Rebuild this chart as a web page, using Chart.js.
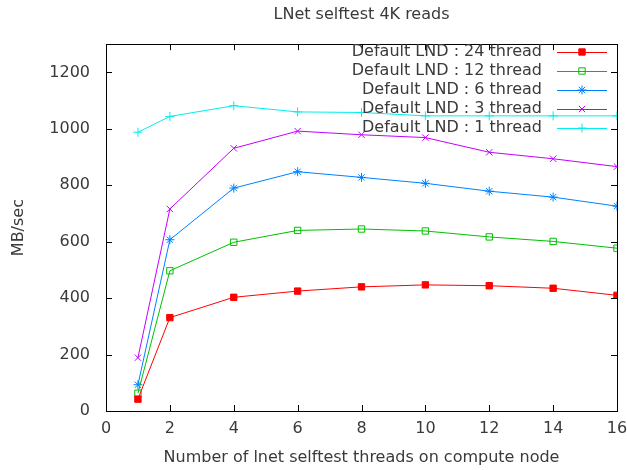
<!DOCTYPE html>
<html>
<head>
<meta charset="utf-8">
<script src="https://cdn.jsdelivr.net/npm/chart.js@4"></script>
<style>
  html, body { margin: 0; padding: 0; background: #fff; }
  #wrap { width: 627px; height: 470px; }
</style>
</head>
<body>
<div id="wrap"><canvas id="lnetChart"></canvas></div>
<script>
// threads on compute node
const threads = [1, 2, 4, 6, 8, 10, 12, 14, 16];

// MB/sec
const lnd24 = [42, 331, 403, 425, 440, 447, 444, 435, 410];
const lnd12 = [63, 497, 598, 640, 645, 638, 617, 601, 577];
const lnd6  = [93, 607, 790, 848, 828, 807, 779, 758, 726];
const lnd3  = [189, 716, 931, 992, 979, 969, 917, 894, 866];
const lnd1  = [988, 1044, 1082, 1060, 1058, 1046, 1046, 1046, 1046];

const seriesNames = ["Default LND : 24 thread", "Default LND : 12 thread",
  "Default LND : 6 thread", "Default LND : 3 thread", "Default LND : 1 thread"];
const seriesColors = ["#ff0000", "#00c000", "#0080ff", "#c000ff", "#00eeee"];
const seriesPoints = ["rect", "rect", "star", "crossRot", "cross"];
const seriesFill = ["#ff0000", "rgba(0,0,0,0)", "#0080ff", "#c000ff", "#00eeee"];
const seriesValues = [lnd24, lnd12, lnd6, lnd3, lnd1];

const textFont = "'DejaVu Sans', sans-serif";
const textColor = '#3a3a3a';

function toPoints(vals) {
  return vals.map((v, i) => ({ x: threads[i], y: v }));
}

const datasets = seriesValues.map((vals, i) => ({
  label: seriesNames[i],
  data: toPoints(vals),
  borderColor: seriesColors[i],
  backgroundColor: seriesFill[i],
  borderWidth: 1,
  pointStyle: seriesPoints[i],
  pointRadius: 4.5,
  pointBorderWidth: 1,
  pointBorderColor: seriesColors[i],
  pointBackgroundColor: seriesFill[i],
  tension: 0
}));

// gnuplot-ish frame with inward ticks on all four sides
const frame = {
  id: 'frame',
  afterDatasetsDraw(chart) {
    const ctx = chart.ctx;
    const a = chart.chartArea;
    const xs = chart.scales.x, ys = chart.scales.y;
    ctx.save();
    ctx.strokeStyle = '#000';
    ctx.lineWidth = 1;
    ctx.strokeRect(Math.round(a.left) + 0.5, Math.round(a.top) + 0.5,
      Math.round(a.right - a.left), Math.round(a.bottom - a.top));
    ctx.beginPath();
    xs.ticks.forEach(t => {
      const px = Math.round(xs.getPixelForValue(t.value)) + 0.5;
      ctx.moveTo(px, a.bottom); ctx.lineTo(px, a.bottom - 6);
      ctx.moveTo(px, a.top); ctx.lineTo(px, a.top + 6);
    });
    ys.ticks.forEach(t => {
      const py = Math.round(ys.getPixelForValue(t.value)) + 0.5;
      ctx.moveTo(a.left, py); ctx.lineTo(a.left + 6, py);
      ctx.moveTo(a.right, py); ctx.lineTo(a.right - 6, py);
    });
    ctx.stroke();

    // key, text right aligned with the sample to its right
    ctx.font = '16px ' + textFont;
    ctx.textAlign = 'right';
    ctx.textBaseline = 'middle';
    chart.data.datasets.forEach((ds, i) => {
      const y = 52 + i * 19;
      ctx.fillStyle = textColor;
      ctx.fillText(ds.label, 542, y);
      ctx.strokeStyle = ds.borderColor;
      ctx.beginPath();
      ctx.moveTo(557, y + 0.5); ctx.lineTo(607, y + 0.5);
      ctx.stroke();
      ctx.fillStyle = ds.pointBackgroundColor;
      Chart.helpers.drawPoint(ctx, {
        pointStyle: ds.pointStyle, radius: ds.pointRadius, borderWidth: 1, rotation: 0
      }, 582, y);
    });
    ctx.restore();
  }
};

new Chart(document.getElementById('lnetChart'), {
  type: 'line',
  data: { datasets: datasets },
  options: {
    responsive: true,
    maintainAspectRatio: false,
    animation: false,
    layout: { padding: 0 },
    plugins: {
      legend: { display: false },
      tooltip: { enabled: false },
      title: {
        display: true,
        fullSize: false,
        text: 'LNet selftest 4K reads',
        color: textColor,
        font: { family: textFont, size: 16, weight: 'normal' },
        padding: { top: 5, bottom: 20 }
      }
    },
    scales: {
      x: {
        type: 'linear',
        min: 0, max: 16,
        grid: { display: false, drawTicks: false },
        border: { display: false },
        ticks: { stepSize: 2, color: textColor, padding: 8, font: { family: textFont, size: 16 } },
        title: {
          display: true,
          text: 'Number of lnet selftest threads on compute node',
          color: textColor,
          font: { family: textFont, size: 16 },
          padding: { top: 4, bottom: 3 }
        },
        afterFit(scale) {
          scale.height = 59;
          scale.paddingLeft = 0;
          scale.paddingRight = 10;
        }
      },
      y: {
        min: 0, max: 1300,
        grid: { display: false, drawTicks: false },
        border: { display: false },
        ticks: {
          stepSize: 200, color: textColor, padding: 16,
          font: { family: textFont, size: 16 },
          callback: v => (v % 200 === 0 ? v : '')
        },
        title: {
          display: true,
          text: 'MB/sec',
          color: textColor,
          font: { family: textFont, size: 16 },
          padding: { top: 9, bottom: 4 }
        },
        afterFit(scale) { scale.width = 106; }
      }
    }
  },
  plugins: [frame]
});
</script>
</body>
</html>
